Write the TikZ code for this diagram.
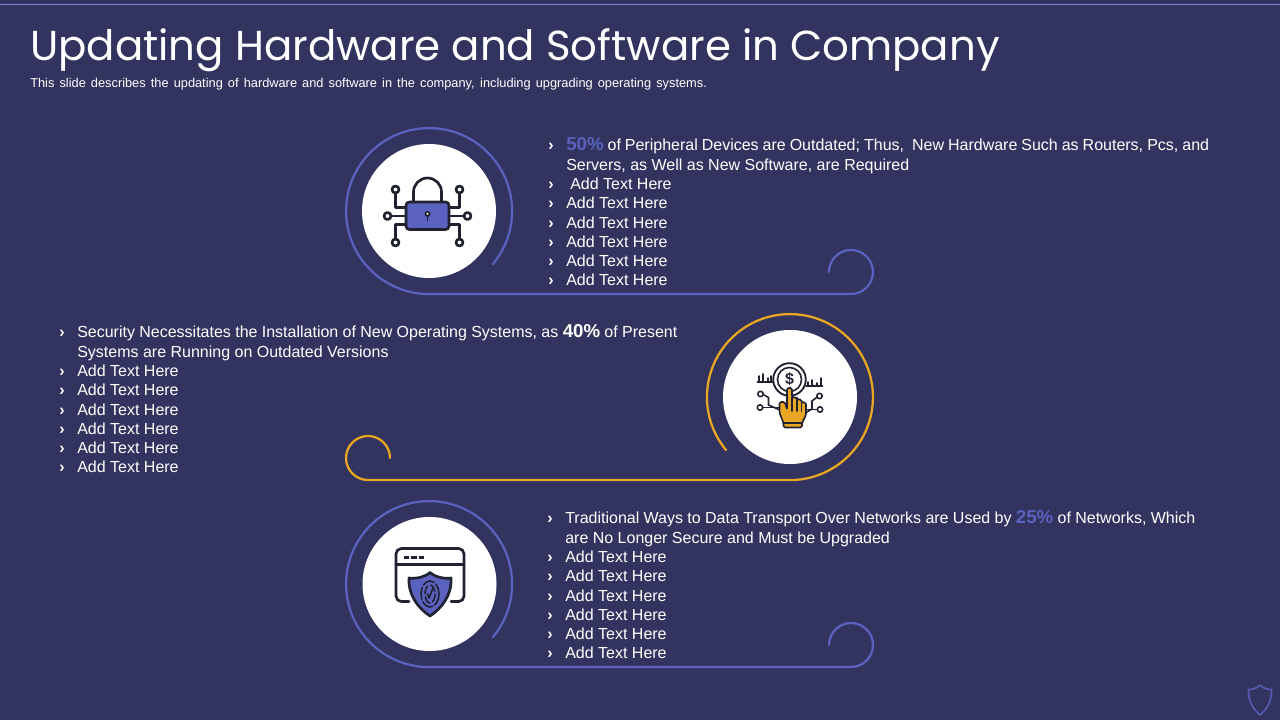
\documentclass[tikz,border=0pt]{standalone}
\usepackage{fontspec}
\setmainfont{Liberation Sans}
\newfontfamily\titlefont{Poppins}
\definecolor{slidebg}{RGB}{50,52,95}
\definecolor{ringblue}{RGB}{91,97,190}
\definecolor{ringorange}{RGB}{232,166,34}
\definecolor{icondark}{RGB}{32,34,50}
\definecolor{topline}{RGB}{128,128,205}
\newcommand{\pct}[2]{{\fontsize{14}{14}\selectfont\bfseries\color{#1}#2}}
\begin{document}
\begin{tikzpicture}[x=0.75pt,y=0.75pt,yscale=-1,xscale=1,
  swirl/.style={line width=1.7pt,line cap=round},
  disc/.style={fill=white,draw=none},
  ink/.style={draw=icondark,line width=2pt,line cap=round,line join=round},
  thinink/.style={draw=icondark,line width=1.2pt,line cap=round,line join=round},
  itemtext/.style={anchor=base west,inner sep=0pt,text=white,font=\fontsize{12}{14}\selectfont},
  arrowmark/.style={anchor=base,inner sep=0pt,text=white,font=\fontsize{12}{14}\selectfont\bfseries},
]
\useasboundingbox (0,0) rectangle (1280,720);
\fill [slidebg] (0,0) rectangle (1280,720);
\draw [topline,line width=1pt] (0,4.5) -- (1280,4.5);

% Title
\node [anchor=base west,inner sep=0pt,text=white,font=\titlefont\fontsize{31.4}{36}\selectfont] (title) at (30,61) {Updating Hardware and Software in Company};
\node [anchor=base west,inner sep=0pt,text=white,font=\fontsize{9.6}{11}\selectfont] (subtitle) at (30,88) {\makebox[507.5pt][s]{This slide describes the updating of hardware and software in the company, including upgrading operating systems.}};

%Swirls
\draw [swirl,ringblue] (493,264) arc [start angle=39.6,end angle=-270,radius=83] -- (851,294) arc [start angle=90,end angle=-180,radius=22];
\draw [swirl,ringorange] (726,450) arc [start angle=140.4,end angle=450,radius=83] -- (368,480) arc [start angle=90,end angle=360,radius=22];
\draw [swirl,ringblue] (493,637) arc [start angle=39.6,end angle=-270,radius=83] -- (851,667) arc [start angle=90,end angle=-180,radius=22];

%Discs
\fill [disc] (429,211) circle [radius=67];
\fill [disc] (790,397) circle [radius=67];
\fill [disc] (429.5,584) circle [radius=67];

%Lock icon
\draw [ink] (413.5,203) -- (413.5,192) arc [start angle=180,end angle=360,radius=14] -- (441.5,203);
\draw [ink] (406,207.5) -| (395.5,193);
\draw [ink] (406,224.5) -| (395.5,238.5);
\draw [ink] (449,207.5) -| (459.5,193);
\draw [ink] (449,224.5) -| (459.5,238.5);
\draw [ink] (391.5,216) -- (406,216);
\draw [ink] (449,216) -- (463.5,216);
\foreach \x/\y in {395.5/189.5,387.5/216,395.5/242.5,459.5/189.5,467.5/216,459.5/242.5}
  \draw [ink] (\x,\y) circle [radius=3.5];
\draw [ink,fill=ringblue,rounded corners=2.5pt] (406,202) rectangle (449,229.5);
\fill [icondark] (427.5,214) circle [radius=3];
\draw [thinink] (427.5,214) -- (427.5,220.5);
\fill [white] (427.5,213.7) circle [radius=1.1];

%Money hand icon
\draw [thinink,line width=1.4pt] (789.5,379.5) circle [radius=16.3];
\draw [thinink] (789.5,379.5) circle [radius=12];
\node [inner sep=0pt,text=icondark,font=\fontsize{12}{14}\selectfont\bfseries] (dollar) at (789.5,379) {\$};
\draw [thinink] (757.5,382) -- (773,382);
\draw [thinink] (806,386) -- (822.5,386);
\foreach \x/\y in {759/376,763/374,768/378,771/376}
  \draw [thinink] (\x,382) -- (\x,\y);
\foreach \x/\y in {808/382,812/380,817/383,821/378}
  \draw [thinink] (\x,386) -- (\x,\y);
\draw [thinink] (764,395) -- (768.5,397.5) -- (768.5,405) -- (780,410);
\draw [thinink] (763.5,407.5) -- (780,407.5);
\draw [thinink] (816.5,397.5) -- (812,401) -- (812,409) -- (805,413);
\draw [thinink] (816.5,409.5) -- (805,409.5);
\foreach \x/\y in {760.5/394,760/407.5,819.5/396,820/409.5}
  \draw [thinink] (\x,\y) circle [radius=2.7];
\draw [thinink,fill=ringorange,rounded corners=1.2pt] (787,388) -- (792,388) -- (792,397.5) -- (797,397.5) -- (797,399.5) -- (801.5,399.5) -- (801.5,402.5) -- (806,402.5) -- (806,415) -- (802,423) -- (802,427.5) -- (783.5,427.5) -- (783.5,423) -- (779.5,413) -- (779.5,402) -- (785,402) -- (787,410) -- cycle;
\draw [thinink] (792,397.5) -- (792,411);
\draw [thinink] (797,399.5) -- (797,411);
\draw [thinink] (801.5,402.5) -- (801.5,411);
\draw [thinink] (783.5,423) -- (802,423);

%Window shield icon
\draw [ink,rounded corners=4pt] (409,601.5) -- (396,601.5) -- (396,548.5) -- (464,548.5) -- (464,601.5) -- (451,601.5);
\draw [ink] (396,564.5) -- (464,564.5);
\foreach \x in {403.5,411,418.5}
  \draw [ink,line cap=butt] (\x,557.5) -- (\x+5.5,557.5);
\draw [white,line width=4pt,line join=round] (430,572.5) .. controls (425,577) and (416,579) .. (409,578) .. controls (408,595) and (418,608) .. (430,616) .. controls (442,608) and (452,595) .. (451,578) .. controls (444,579) and (435,577) .. (430,572.5) -- cycle;
\draw [ink,fill=ringblue] (430,572.5) .. controls (425,577) and (416,579) .. (409,578) .. controls (408,595) and (418,608) .. (430,616) .. controls (442,608) and (452,595) .. (451,578) .. controls (444,579) and (435,577) .. (430,572.5) -- cycle;
\draw [thinink,dash pattern=on 9pt off 2pt] (430,594) ellipse [x radius=9,y radius=13];
\draw [thinink,dash pattern=on 6pt off 2.5pt] (430,594) ellipse [x radius=5,y radius=9];
\draw [thinink] (427.5,594) -- (429,598) -- (433,588);

%Corner shield
\draw [ringblue!85!slidebg,line width=1.3pt,line join=round] (1260,685) .. controls (1257,688) and (1252,690) .. (1248.5,689.5) .. controls (1248,701) and (1253,709) .. (1260,715) .. controls (1267,709) and (1272,701) .. (1271.5,689.5) .. controls (1268,690) and (1263,688) .. (1260,685) -- cycle;

% Text Node
\node [itemtext] (topa) at (566,150.5) {\makebox[482.2pt][s]{\pct{ringblue}{50\%} of Peripheral Devices are Outdated; Thus,\ \ New Hardware Such as Routers, Pcs, and}};
\node [itemtext] (topb) at (566,170.5) {Servers, as Well as New Software, are Required};
\node [itemtext] (topc) at (570,189.6) {Add Text Here};
\foreach \y in {208.9,228.1,247.4,266.6,285.9}
  \node [itemtext] at (566,\y) {Add Text Here};
\foreach \y in {150.5,189.6,208.9,228.1,247.4,266.6,285.9}
  \node [arrowmark] at (551,\y) {›};

% Text Node
\node [itemtext] (mida) at (77,337.5) {\makebox[450pt][s]{Security Necessitates the Installation of New Operating Systems, as \pct{white}{40\%} of Present}};
\node [itemtext] (midb) at (77,357.5) {Systems are Running on Outdated Versions};
\foreach \y in {376.7,395.9,415.2,434.4,453.7,472.9}
  \node [itemtext] at (77,\y) {Add Text Here};
\foreach \y in {337.5,376.7,395.9,415.2,434.4,453.7,472.9}
  \node [arrowmark] at (62,\y) {›};

% Text Node
\node [itemtext] (lowa) at (565,523.5) {\makebox[472.5pt][s]{Traditional Ways to Data Transport Over Networks are Used by \pct{ringblue}{25\%} of Networks, Which}};
\node [itemtext] (lowb) at (565,543.5) {are No Longer Secure and Must be Upgraded};
\foreach \y in {562.7,581.9,601.2,620.4,639.7,658.9}
  \node [itemtext] at (565,\y) {Add Text Here};
\foreach \y in {523.5,562.7,581.9,601.2,620.4,639.7,658.9}
  \node [arrowmark] at (550,\y) {›};
\end{tikzpicture}
\end{document}
